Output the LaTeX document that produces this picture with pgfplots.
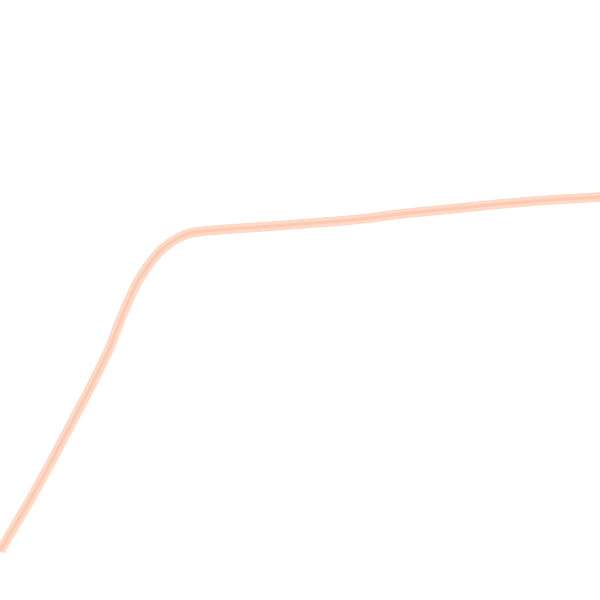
\documentclass[border=0pt]{standalone}
\usepackage{pgfplots}
\pgfplotsset{compat=1.18}
\definecolor{lightsal}{RGB}{254,218,198}
\definecolor{midsal}{RGB}{252,192,166}
\pgfplotstableread{
x y
0 551
10 534
20 517
30 500
40 482
50 464
60 445
70 426
80 407
90 388
100 368
110 347
118 326
127 304
138 281
150 263
160 251
170 243
180 237
190 233
205 231
230 229
260 227
300 224
340 221
370 218
400 214
450 209
500 204
550 200
600 197
}\curve
\begin{document}
\begin{tikzpicture}
\begin{axis}[
  width=10cm, height=10cm, scale only axis,
  xmin=0, xmax=600, ymin=0, ymax=600, y dir=reverse,
  axis lines=none, ticks=none, clip=true,
]
\path (axis cs:0,0) rectangle (axis cs:600,600);
\addplot[lightsal, line width=1.6mm, line join=round, smooth, tension=0.4] table {\curve};
\addplot[midsal, opacity=0.6, line width=0.5mm, line join=round, smooth, tension=0.4] table {\curve};
\end{axis}
\end{tikzpicture}
\end{document}
